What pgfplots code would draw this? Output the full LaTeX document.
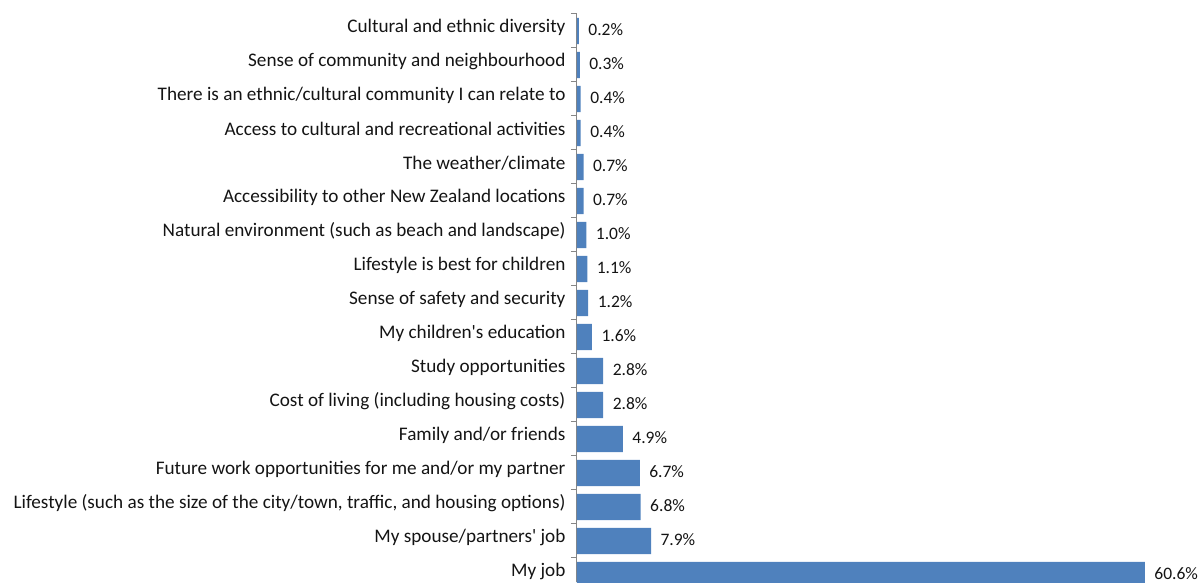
\documentclass[border=0pt]{standalone}
\usepackage{fontspec}
\setmainfont{Carlito}
\usepackage{pgfplots}
\pgfplotsset{compat=1.18}
\definecolor{barblue}{HTML}{4F81BD}
\definecolor{axisgray}{HTML}{868686}
\definecolor{txt}{HTML}{141414}

% reasons for the move, share of respondents (%), listed from the bottom up
\pgfplotstableread{
idx share
0  60.6
1  7.9
2  6.8
3  6.7
4  4.9
5  2.8
6  2.8
7  1.6
8  1.2
9  1.1
10 1.0
11 0.7
12 0.7
13 0.4
14 0.4
15 0.3
16 0.2
}\reasons

\begin{document}
\begin{tikzpicture}
\path[use as bounding box] (-577pt,0pt) rectangle (626pt,582pt);
\begin{axis}[
  at={(0pt,0pt)}, anchor=south west,
  scale only axis, width=626pt, height=568pt,
  xbar, bar width=0.765,
  xmin=0, xmax=66.8, ymin=-0.206, ymax=16.5,
  axis x line=none, axis y line*=left,
  y axis line style={axisgray, line width=1pt},
  xtick=\empty,
  ytick={0,...,16},
  yticklabels={
    My job,
    My spouse/partners\textquotesingle{} job,
    {Lifestyle (such as the size of the city/town, traffic, and housing options)},
    Future work opportunities for me and/or my partner,
    Family and/or friends,
    Cost of living (including housing costs),
    Study opportunities,
    My children\textquotesingle{}s education,
    Sense of safety and security,
    Lifestyle is best for children,
    Natural environment (such as beach and landscape),
    Accessibility to other New Zealand locations,
    The weather/climate,
    Access to cultural and recreational activities,
    There is an ethnic/cultural community I can relate to,
    Sense of community and neighbourhood,
    Cultural and ethnic diversity},
  major tick length=0pt,
  minor ytick={0.5,1.5,...,16.5},
  minor tick length=6pt,
  tick align=outside,
  minor tick style={axisgray, line width=1pt},
  yticklabel style={text=txt, font=\fontsize{19.2pt}{22pt}\selectfont, yshift=4pt, xshift=-8pt},
  point meta=x,
  /pgf/number format/assume math mode=true,
  clip=false,
  nodes near coords={\pgfmathprintnumber[fixed, fixed zerofill, precision=1]{\pgfplotspointmeta}\%},
  nodes near coords style={anchor=west, xshift=6pt, yshift=1.5pt, text=txt, font=\fontsize{17.5pt}{21pt}\selectfont},
]
\addplot[fill=barblue, draw=none] table[x=share, y=idx] {\reasons};
\end{axis}
\end{tikzpicture}
\end{document}
